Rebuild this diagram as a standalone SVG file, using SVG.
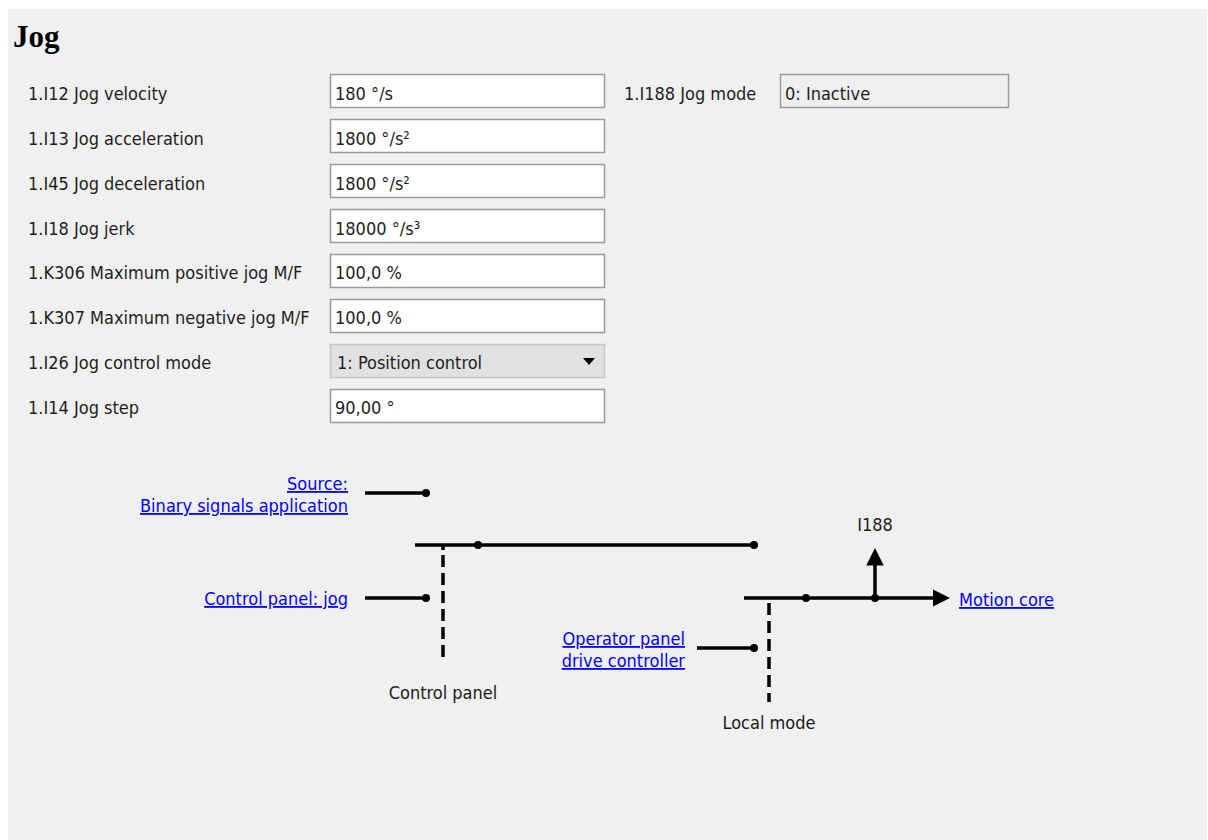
<svg xmlns="http://www.w3.org/2000/svg" width="1208" height="840" viewBox="0 0 1208 840">
<defs>
<style>
.lbl{font-family:"DejaVu Sans Condensed","Liberation Sans",sans-serif;font-size:18px;fill:#1e1e1e}
.val{font-family:"DejaVu Sans Condensed","Liberation Sans",sans-serif;font-size:18px;fill:#1e1e1e}
.box{fill:#ffffff;stroke:#9a9a9a;stroke-width:1.5}
.rbox{fill:#efefef;stroke:#9a9a9a;stroke-width:1.5}
.dbox{fill:#e1e1e1;stroke:#c4c4c4;stroke-width:1.5}
.link{font-family:"DejaVu Sans Condensed","Liberation Sans",sans-serif;font-size:18px;fill:#0000ff;text-decoration:underline}
.dtxt{font-family:"DejaVu Sans Condensed","Liberation Sans",sans-serif;font-size:18px;fill:#1a1a1a}
.ln{stroke:#000;stroke-width:3.5;fill:none}
.dash{stroke:#000;stroke-width:3.5;fill:none;stroke-dasharray:12 6}
.dot{fill:#000}
</style>
<marker id="arr" viewBox="0 0 10 10" refX="2" refY="5" markerWidth="5" markerHeight="5" orient="auto" markerUnits="strokeWidth"><path d="M0,0 L10,5 L0,10 z" fill="#000"/></marker>
</defs>
<rect x="0" y="0" width="1208" height="840" fill="#ffffff"/>
<rect x="8" y="9" width="1199" height="831" fill="#f0f0f0"/>
<text x="13" y="47" font-family="'Liberation Serif',serif" font-weight="bold" font-size="31" fill="#000">Jog</text>

<g id="p-velocity"><text class="lbl" x="28" y="100">1.I12 Jog velocity</text><rect class="box" x="330.5" y="74.5" width="274" height="33"/><text class="val" x="335" y="100">180 °/s</text></g>
<g id="p-acceleration"><text class="lbl" x="28" y="145">1.I13 Jog acceleration</text><rect class="box" x="330.5" y="119.5" width="274" height="33"/><text class="val" x="335" y="145">1800 °/s²</text></g>
<g id="p-deceleration"><text class="lbl" x="28" y="190">1.I45 Jog deceleration</text><rect class="box" x="330.5" y="164.5" width="274" height="33"/><text class="val" x="335" y="190">1800 °/s²</text></g>
<g id="p-jerk"><text class="lbl" x="28" y="235">1.I18 Jog jerk</text><rect class="box" x="330.5" y="209.5" width="274" height="33"/><text class="val" x="335" y="235">18000 °/s³</text></g>
<g id="p-maxpos"><text class="lbl" x="28" y="279">1.K306 Maximum positive jog M/F</text><rect class="box" x="330.5" y="254.5" width="274" height="33"/><text class="val" x="335" y="279">100,0 %</text></g>
<g id="p-maxneg"><text class="lbl" x="28" y="324">1.K307 Maximum negative jog M/F</text><rect class="box" x="330.5" y="299.5" width="274" height="33"/><text class="val" x="335" y="324">100,0 %</text></g>
<g id="p-controlmode"><text class="lbl" x="28" y="369">1.I26 Jog control mode</text><rect class="dbox" x="330.5" y="344.5" width="274" height="33"/><text class="val" x="337" y="369">1: Position control</text><path d="M583,358 L595,358 L589,365 z" fill="#000"/></g>
<g id="p-step"><text class="lbl" x="28" y="414">1.I14 Jog step</text><rect class="box" x="330.5" y="389.5" width="274" height="33"/><text class="val" x="335" y="414">90,00 °</text></g>
<g id="p-jogmode"><text class="lbl" x="624" y="100">1.I188 Jog mode</text><rect class="rbox" x="780.5" y="74.5" width="228" height="33"/><text class="val" x="785" y="100">0: Inactive</text></g>

<g id="n-source"><text class="link" x="348" y="490" text-anchor="end">Source:</text><text class="link" x="348" y="512" text-anchor="end">Binary signals application</text></g>
<g id="n-cpjog"><text class="link" x="348" y="605" text-anchor="end">Control panel: jog</text></g>
<g id="n-opanel"><text class="link" x="685" y="645" text-anchor="end">Operator panel</text><text class="link" x="685" y="667" text-anchor="end">drive controller</text></g>
<g id="n-motion"><text class="link" x="959" y="606">Motion core</text></g>
<g id="n-cp"><text class="dtxt" x="443" y="699" text-anchor="middle">Control panel</text></g>
<g id="n-local"><text class="dtxt" x="769" y="729" text-anchor="middle">Local mode</text></g>
<g id="n-i188"><text class="dtxt" x="875" y="531" text-anchor="middle">I188</text></g>

<g id="connectors">
<line class="ln" x1="365" y1="493" x2="426" y2="493"/><circle class="dot" cx="426" cy="493" r="4"/>
<line class="ln" x1="415" y1="545" x2="754" y2="545"/><circle class="dot" cx="478" cy="545" r="4"/><circle class="dot" cx="754" cy="545" r="4"/>
<line class="ln" x1="443" y1="545" x2="443" y2="550"/>
<line class="dash" x1="443" y1="555" x2="443" y2="658"/>
<line class="ln" x1="365" y1="598" x2="426" y2="598"/><circle class="dot" cx="426" cy="598" r="4"/>
<line class="ln" x1="744" y1="598" x2="936" y2="598" marker-end="url(#arr)"/>
<circle class="dot" cx="806" cy="598" r="4"/><circle class="dot" cx="875" cy="598" r="4"/>
<line class="ln" x1="875" y1="598" x2="875" y2="562" marker-end="url(#arr)"/>
<line class="dash" x1="769" y1="603" x2="769" y2="702"/>
<line class="ln" x1="697" y1="648" x2="754" y2="648"/><circle class="dot" cx="754" cy="648" r="4"/>
</g>
</svg>
